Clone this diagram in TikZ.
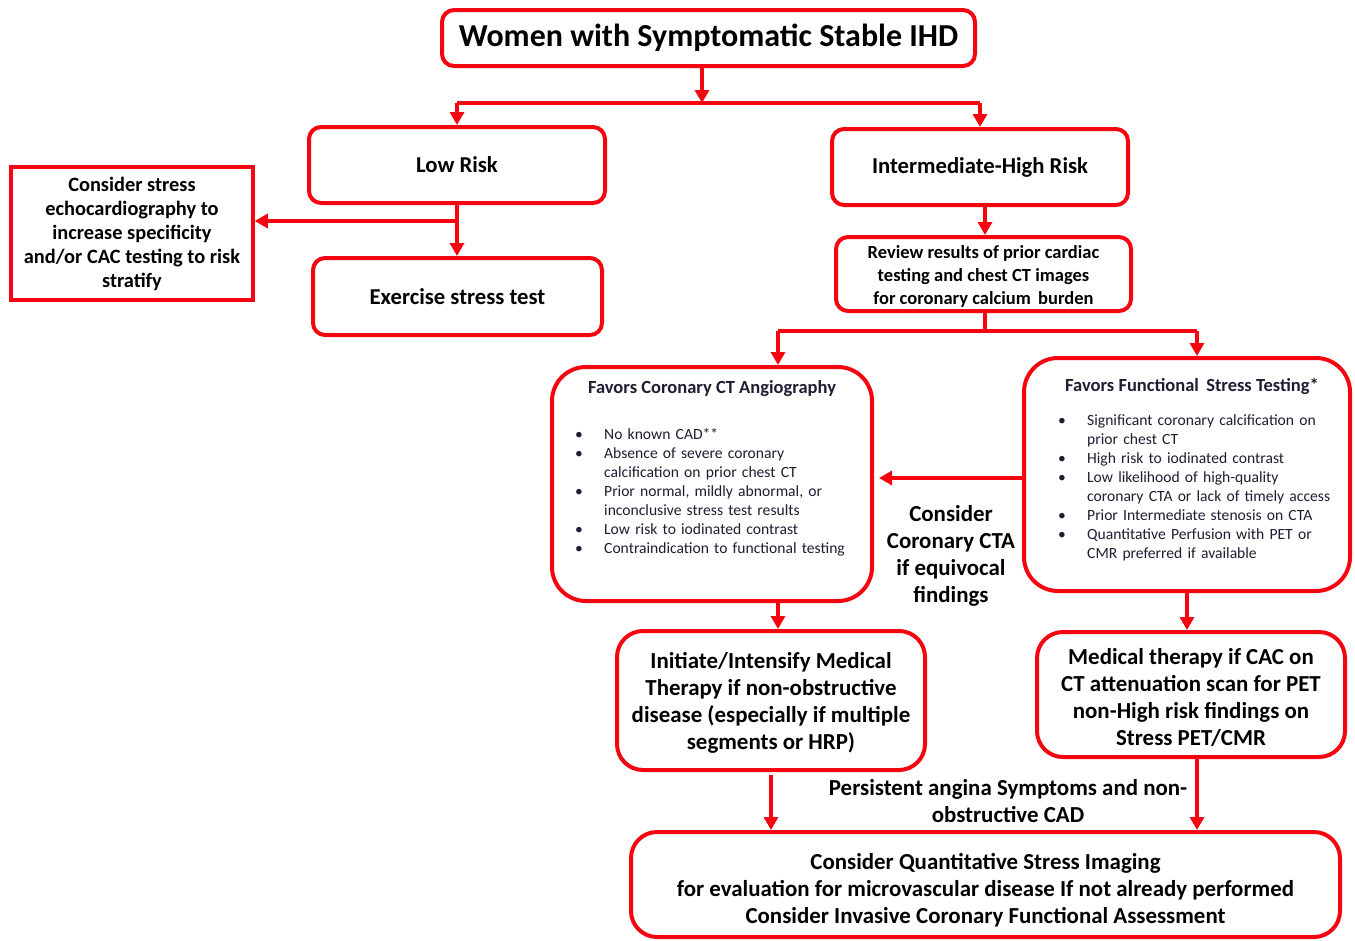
\documentclass[tikz,border=0pt]{standalone}
\usepackage{fontspec}
\setmainfont{Carlito}
\usetikzlibrary{arrows.meta,positioning}

\definecolor{boxred}{RGB}{245,5,15}
\definecolor{listink}{RGB}{30,30,50}

% bullet item with hanging indent
\newcommand{\bul}[1]{\par\hangindent=29pt\hangafter=1\noindent\makebox[29pt][l]{\textbullet}#1}

\tikzset{
  flowbox/.style={draw=boxred, line width=4pt, rounded corners=12pt, fill=white, align=center, font=\bfseries},
  sqbox/.style={draw=boxred, line width=3.5pt, fill=white, align=center, font=\bfseries},
  link/.style={draw=boxred, line width=4pt},
  arr/.style={link, -{Triangle[length=13pt,width=14pt]}},
  bigtxt/.style={font=\fontsize{22.9}{27}\selectfont\bfseries, align=center},
  listtxt/.style={font=\fontsize{15.6}{19}\selectfont, text=listink, inner sep=0pt, anchor=north west}
}

\begin{document}
\begin{tikzpicture}[x=1pt, y=-1pt]
\useasboundingbox (0,0) rectangle (1355,940);

% Top box and the two risk groups
\node[flowbox, minimum width=533pt, minimum height=56pt, font=\fontsize{32}{38}\selectfont\bfseries] (women) at (708.5,38) {Women with Symptomatic Stable IHD};
\node[flowbox, minimum width=296pt, minimum height=76pt, font=\fontsize{22.7}{27}\selectfont\bfseries] (low) at (457,165) {Low Risk};
\node[flowbox, minimum width=296pt, minimum height=76pt, font=\fontsize{22.7}{27}\selectfont\bfseries] (inter) at (980,167) {Intermediate-High Risk};

% Low risk branch
\node[sqbox, minimum width=242pt, minimum height=133pt, font=\fontsize{20.4}{24}\selectfont\bfseries] (cse) at (132,233.5)
  {Consider stress\\echocardiography to\\increase specificity\\and/or CAC testing to risk\\stratify};
\node[flowbox, minimum width=289pt, minimum height=77pt, font=\fontsize{22.7}{27}\selectfont\bfseries] (exercise) at (457.5,296.5) {Exercise stress test};

% Intermediate-high risk branch
\node[flowbox, minimum width=295pt, minimum height=74pt] (review) at (983.5,274) {};
\node[font=\fontsize{18.5}{23}\selectfont\bfseries, align=center] (reviewtxt) at (983.5,276)
  {Review results of prior cardiac\\testing and chest CT images\\for coronary calcium\, burden};

% Favors boxes
\node[flowbox, rounded corners=34pt, minimum width=320pt, minimum height=234pt] (favct) at (712,484) {};
\node[font=\fontsize{18.5}{22}\selectfont\bfseries, text=listink] (ctttl) at (712,389) {Favors Coronary CT Angiography};
\node[listtxt, text width=290pt] (ctlist) at (575,420) {%
  \bul{No known CAD**}
  \bul{Absence of severe coronary\newline calcification on prior chest CT}
  \bul{Prior normal, mildly abnormal, or\newline inconclusive stress test results}
  \bul{Low risk to iodinated contrast}
  \bul{Contraindication to functional testing}\par};

\node[flowbox, rounded corners=34pt, minimum width=326pt, minimum height=233pt] (favfst) at (1187,474.5) {};
\node[font=\fontsize{18.5}{22}\selectfont\bfseries, text=listink] (fstttl) at (1192,386) {Favors Functional\, Stress Testing*};
\node[listtxt, text width=290pt] (fstlist) at (1058,406) {%
  \bul{Significant coronary calcification on\newline prior chest CT}
  \bul{High risk to iodinated contrast}
  \bul{Low likelihood of high-quality\newline coronary CTA or lack of timely access}
  \bul{Prior Intermediate stenosis on CTA}
  \bul{Quantitative Perfusion with PET or\newline CMR preferred if available}\par};

\node[bigtxt] (equiv) at (951,556) {Consider\\Coronary CTA\\if equivocal\\findings};

% Treatment boxes
\node[flowbox, rounded corners=26pt, minimum width=308pt, minimum height=139pt] (initiate) at (771,700.5) {};
\node[bigtxt] (initiatetxt) at (771,703)
  {Initiate/Intensify Medical\\Therapy if non-obstructive\\disease (especially if multiple\\segments or HRP)};
\node[flowbox, rounded corners=26pt, minimum width=308pt, minimum height=125pt] (medical) at (1191,694.5) {};
\node[bigtxt] (medicaltxt) at (1191,697)
  {Medical therapy if CAC on\\CT attenuation scan for PET\\non-High risk findings on\\Stress PET/CMR};
\node[bigtxt] (persist) at (1008,801) {Persistent angina Symptoms and non-\\obstructive CAD};
\node[flowbox, rounded corners=26pt, minimum width=709pt, minimum height=105pt] (bottom) at (985.5,884.5) {};
\node[bigtxt] (bottomtxt) at (985.5,890)
  {Consider Quantitative Stress Imaging\\for evaluation for microvascular disease If not already performed\\Consider Invasive Coronary Functional Assessment};

% Junction points
\coordinate (split) at (702,103);
\coordinate (lowbr) at (457,221);
\coordinate (split2) at (985,331);
\coordinate (ctin) at (778,331);
\coordinate (fstin) at (1197,331);
\coordinate (eq) at (950,478);

% Connectors
\draw[arr] (women.south -| split) -- (split);
\draw[link] (split -| low) -- (split -| inter);
\draw[arr] (split -| low) -- (low.north);
\draw[arr] (split -| inter) -- (inter.north);
\draw[arr] (low.south) -- (exercise.north -| low);
\draw[arr] (lowbr) -- (cse.east |- lowbr);
\draw[arr] (inter.south -| split2) -- (review.north -| split2);
\draw[link] (review.south -| split2) -- (split2);
\draw[link] (ctin) -- (fstin);
\draw[arr] (ctin) -- (favct.north -| ctin);
\draw[arr] (fstin) -- (favfst.north -| fstin);
\draw[arr] (favfst.west |- eq) -- ([xshift=5pt]favct.east |- eq);
\draw[arr] (favct.south -| ctin) -- (initiate.north -| ctin);
\draw[arr] (favfst.south) -- (favfst.south |- medical.north);
\draw[arr] ([yshift=-3pt]initiate.south) -- (initiate.south |- bottom.north);
\draw[arr] (medical.south -| fstin) -- (bottom.north -| fstin);
\end{tikzpicture}
\end{document}
